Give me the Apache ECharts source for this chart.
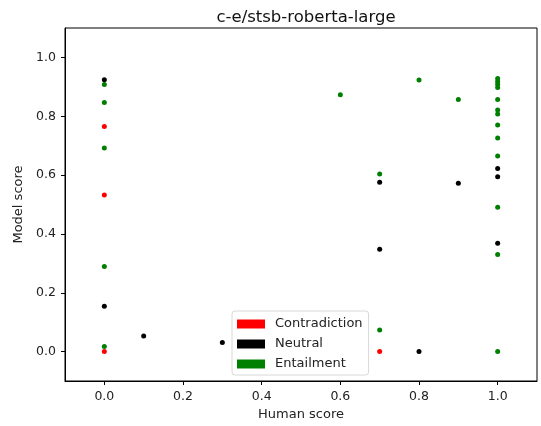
<!DOCTYPE html>
<html>
<head>
<meta charset="utf-8">
<script src="https://cdn.jsdelivr.net/npm/echarts@6/dist/echarts.min.js"></script>
<style>
  html, body { margin: 0; padding: 0; background: #fff; }
  #chart { width: 541px; height: 426px; }
</style>
</head>
<body>
<div id="chart"></div>
<script>
// ticks shown on both axes
const tickValues = [0, 0.2, 0.4, 0.6, 0.8, 1.0];

// [human score, model score]
const contradiction = [[0, 0.765], [0, 0.532], [0, 0.0], [0.7, 0.0]];
const neutral = [
  [0, 0.924], [0, 0.154], [0.1, 0.053], [0.3, 0.031],
  [0.7, 0.576], [0.7, 0.348], [0.8, 0.0], [0.9, 0.572],
  [1.0, 0.622], [1.0, 0.594], [1.0, 0.368]
];
const entailment = [
  [0, 0.908], [0, 0.847], [0, 0.692], [0, 0.289], [0, 0.017],
  [0.6, 0.873], [0.7, 0.604], [0.7, 0.073], [0.8, 0.923], [0.9, 0.857],
  [1.0, 0.928], [1.0, 0.918], [1.0, 0.909], [1.0, 0.898], [1.0, 0.857],
  [1.0, 0.821], [1.0, 0.808], [1.0, 0.770], [1.0, 0.726], [1.0, 0.665],
  [1.0, 0.491], [1.0, 0.330], [1.0, 0.0]
];

const font = 'DejaVu Sans';
const chart = echarts.init(document.getElementById('chart'));

const axisCommon = {
  type: 'value',
  min: -0.1,
  max: 1.1,
  axisLine: { show: true, onZero: false, lineStyle: { color: '#000', width: 1 } },
  splitLine: { show: false },
  axisTick: { show: true, customValues: tickValues, length: 4, lineStyle: { color: '#000' } },
  axisLabel: {
    customValues: tickValues,
    color: '#222',
    fontFamily: font,
    fontSize: 12.5,
    margin: 9,
    formatter: v => v.toFixed(1)
  },
  nameLocation: 'middle',
  nameTextStyle: { fontFamily: font, fontSize: 13, color: '#222' }
};

const option = {
  backgroundColor: '#fff',
  animation: false,
  title: {
    text: 'c-e/stsb-roberta-large',
    left: 301,
    textAlign: 'center',
    top: 4,
    textStyle: { fontFamily: font, fontSize: 16.5, fontWeight: 'normal', color: '#111' }
  },
  grid: {
    left: 65, right: 4, top: 28, bottom: 45,
    show: true, borderColor: '#000', borderWidth: 1, backgroundColor: 'transparent'
  },
  xAxis: Object.assign({}, axisCommon, { name: 'Human score', nameGap: 26 }),
  yAxis: Object.assign({}, axisCommon, { name: 'Model score', nameGap: 35 }),
  legend: {
    data: ['Contradiction', 'Neutral', 'Entailment'],
    orient: 'vertical',
    left: 232,
    top: 311,
    icon: 'rect',
    itemWidth: 28,
    itemHeight: 9,
    itemGap: 6,
    padding: [6, 6, 4, 5],
    borderColor: '#d8d8d8',
    borderWidth: 1,
    borderRadius: 3,
    backgroundColor: 'rgba(255,255,255,0.8)',
    textStyle: { fontFamily: font, fontSize: 13, lineHeight: 14, color: '#222', padding: [0, 0, 0, 5] }
  },
  series: [
    { name: 'Entailment', type: 'scatter', data: entailment, symbolSize: 5, itemStyle: { color: 'green', opacity: 1 } },
    { name: 'Neutral', type: 'scatter', data: neutral, symbolSize: 5, itemStyle: { color: 'black', opacity: 1 } },
    { name: 'Contradiction', type: 'scatter', data: contradiction, symbolSize: 5, itemStyle: { color: 'red', opacity: 1 } }
  ]
};

chart.setOption(option);
</script>
</body>
</html>
